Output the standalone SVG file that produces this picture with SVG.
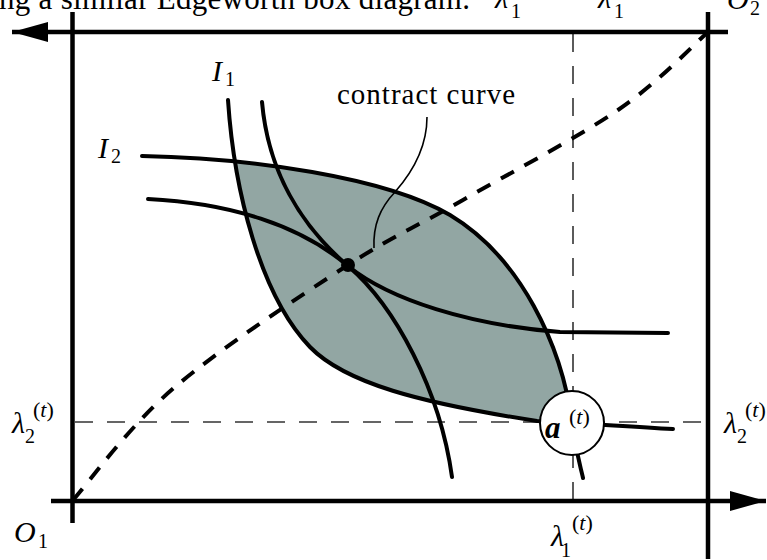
<svg xmlns="http://www.w3.org/2000/svg" width="767" height="560" viewBox="0 0 767 560">
<style>
.t{font-family:"Liberation Serif","Times New Roman",serif;fill:#000}
.m{font-style:italic;font-size:30px}
.s{font-size:20px}
.p{font-size:22px}
.ax{stroke:#000;stroke-width:4.5;fill:none}
.cv{stroke:#000;stroke-width:4;fill:none;stroke-linecap:round}
.th{stroke:#333;stroke-width:1.6;fill:none;stroke-dasharray:18 14}
</style>
<defs>
<marker id="arr" markerUnits="userSpaceOnUse" viewBox="0 0 36 20" markerWidth="36" markerHeight="20" refX="36" refY="10" orient="auto">
<path d="M0,0 L36,10 L0,20 Z" fill="#000"/>
</marker>
<clipPath id="belowA">
<path d="M142,156 C250,158 385,177 450,215 C520,257 562,345 572,423 C576,454 581,468 583,478 L0,478 L0,156 Z"/>
</clipPath>
</defs>

<text class="t" x="-1" y="9" font-size="31" textLength="471" lengthAdjust="spacing">ng a similar Edgeworth box diagram.</text>

<g id="lens">
<path d="M228,100 C234,190 260,295 310,347 C345,383 420,403 537,421 C580,423 620,426 673,429 L767,429 L767,0 L228,0 Z" fill="#92a6a3" clip-path="url(#belowA)"/>
</g>

<g id="guides">
<line class="th" x1="573" y1="34" x2="573" y2="499"/>
<line class="th" x1="75" y1="422" x2="706" y2="422"/>
</g>

<g id="box">
<line class="ax" x1="72.5" y1="12" x2="72.5" y2="523"/>
<line class="ax" x1="708" y1="12" x2="708" y2="559"/>
<line class="ax" x1="728" y1="32" x2="12" y2="32" marker-end="url(#arr)"/>
<line class="ax" x1="51" y1="501" x2="766" y2="501" marker-end="url(#arr)"/>
</g>

<g id="connectors">
<path id="contract-curve" d="M73,500 C90,481 129,426 175,387 C221,348 300,296 348,265 C396,234 418,226 463,200 C508,174 577,138 618,110 C659,82 692,46 707,33" fill="none" stroke="#000" stroke-width="4" stroke-dasharray="15 12"/>
<path id="I2-outer" class="cv" d="M142,156 C250,158 385,177 450,215 C520,257 562,345 572,423 C576,454 581,468 583,478"/>
<path id="I1-outer" class="cv" d="M228,100 C234,190 260,295 310,347 C345,383 420,403 537,421 C580,423 620,426 673,429"/>
<path id="I1-inner" class="cv" d="M262,102 C268,170 300,225 348,266 C395,306 440,390 452,477"/>
<path id="I2-inner" class="cv" d="M148,199 C230,203 300,225 348,266 C390,300 470,325 560,332 L668,333"/>
<path id="leader" d="M427,117 C427,150 410,175 395,192 C380,208 373,225 374,248" fill="none" stroke="#000" stroke-width="1.6"/>
</g>

<g id="tangency">
<circle cx="348" cy="265" r="7" fill="#000"/>
</g>

<g id="node-a">
<circle cx="572" cy="423" r="32" fill="#fff" stroke="#000" stroke-width="2"/>
<text class="t" x="545" y="438" font-size="31" font-weight="bold" font-style="italic">a</text>
<text class="t p" x="569" y="424">(<tspan font-style="italic">t</tspan>)</text>
</g>

<g id="labels">
<text class="t" x="337" y="104" font-size="29" textLength="178" lengthAdjust="spacing">contract curve</text>
<text class="t m" x="212" y="81">I</text><text class="t s" x="225" y="86">1</text>
<text class="t m" x="98" y="158">I</text><text class="t s" x="111" y="163">2</text>
<text class="t m" x="12" y="433">λ</text><text class="t s" x="25" y="443">2</text><text class="t p" x="33" y="417">(<tspan font-style="italic">t</tspan>)</text>
<text class="t m" x="724" y="433">λ</text><text class="t s" x="737" y="443">2</text><text class="t p" x="745" y="417">(<tspan font-style="italic">t</tspan>)</text>
<text class="t m" x="551" y="546">λ</text><text class="t s" x="561" y="557">1</text><text class="t p" x="572" y="530">(<tspan font-style="italic">t</tspan>)</text>
<text class="t m" x="14" y="542">O</text><text class="t s" x="38" y="548">1</text>
<text class="t m" x="727" y="9">O</text><text class="t s" x="750" y="15">2</text>
<text class="t m" x="495" y="8">λ</text><text class="t s" x="511" y="18">1</text>
<text class="t m" x="598" y="8">λ</text><text class="t s" x="614" y="18">1</text>
</g>
</svg>
